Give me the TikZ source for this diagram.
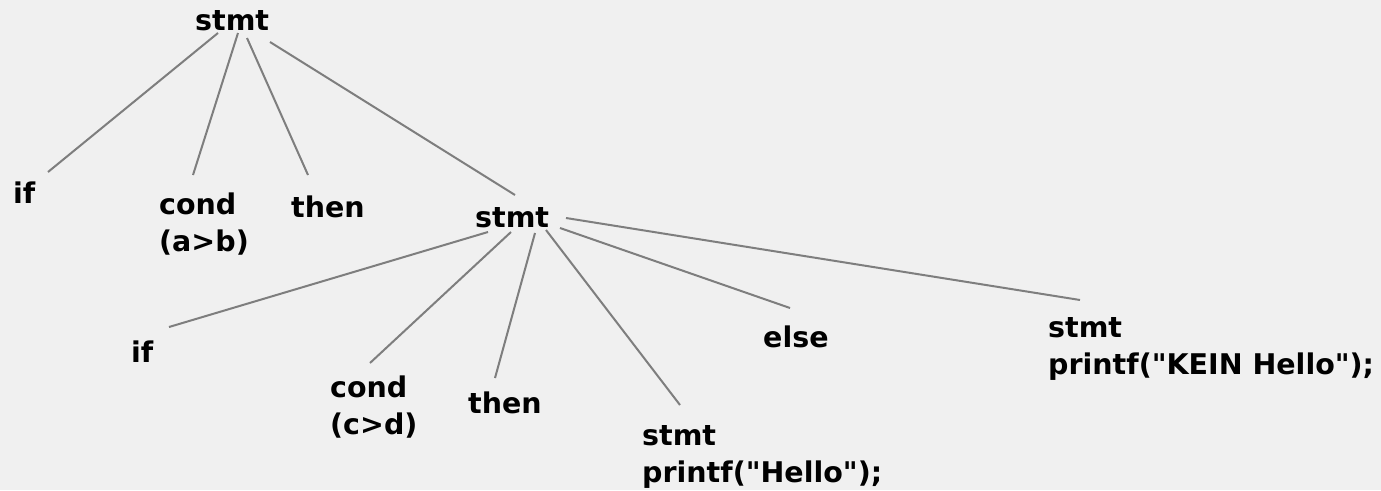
\documentclass[tikz,border=0pt]{standalone}
\usepackage{fontspec}
\newfontfamily\treefont{DejaVu Sans}
\usetikzlibrary{positioning}
\definecolor{panelgray}{HTML}{F0F0F0}
\definecolor{edgegray}{HTML}{7E7E7E}
\tikzset{
word/.style={
  anchor=base west,
  inner sep=0pt,
  align=left,
  font=\fontsize{28.5}{37}\treefont\bfseries,
},
branch/.style={
  draw=edgegray,
  line width=2pt,
},
}

\begin{document}
\begin{tikzpicture}[x=1pt,y=-1pt]
\path[use as bounding box,fill=panelgray] (0,0) rectangle (1381,490);

% outer if-then (two-line nodes sit on their last baseline)
\node[word] (root) at (195,30) {stmt};
\node[word] (if1) at (13,203) {if};
\node[word] (cond1) at (159,251) {cond\\(a>b)};
\node[word] (then1) at (291,217) {then};
\node[word] (inner) at (475,227) {stmt};

% inner if-then-else
\node[word] (if2) at (131,362) {if};
\node[word] (cond2) at (330,434) {cond\\(c>d)};
\node[word] (then2) at (468,413) {then};
\node[word] (hello) at (642,482) {stmt\\printf("Hello");};
\node[word] (else) at (763,347) {else};
\node[word] (kein) at (1048,374) {stmt\\printf("KEIN Hello");};

\draw[branch] ([shift={(23,3)}]root.base west) -- ([shift={(35,-31)}]if1.base west);
\draw[branch] ([shift={(43,3)}]root.base west) -- ([shift={(34,-76)}]cond1.base west);
\draw[branch] ([shift={(52,8)}]root.base west) -- ([shift={(17,-42)}]then1.base west);
\draw[branch] ([shift={(75,12)}]root.base west) -- ([shift={(40,-32)}]inner.base west);

\draw[branch] ([shift={(13,5)}]inner.base west) -- ([shift={(38,-35)}]if2.base west);
\draw[branch] ([shift={(36,5)}]inner.base west) -- ([shift={(40,-71)}]cond2.base west);
\draw[branch] ([shift={(60,6)}]inner.base west) -- ([shift={(27,-35)}]then2.base west);
\draw[branch] ([shift={(71,3)}]inner.base west) -- ([shift={(38,-77)}]hello.base west);
\draw[branch] ([shift={(85,1)}]inner.base west) -- ([shift={(27,-39)}]else.base west);
\draw[branch] ([shift={(91,-9)}]inner.base west) -- ([shift={(32,-74)}]kein.base west);
\end{tikzpicture}
\end{document}
